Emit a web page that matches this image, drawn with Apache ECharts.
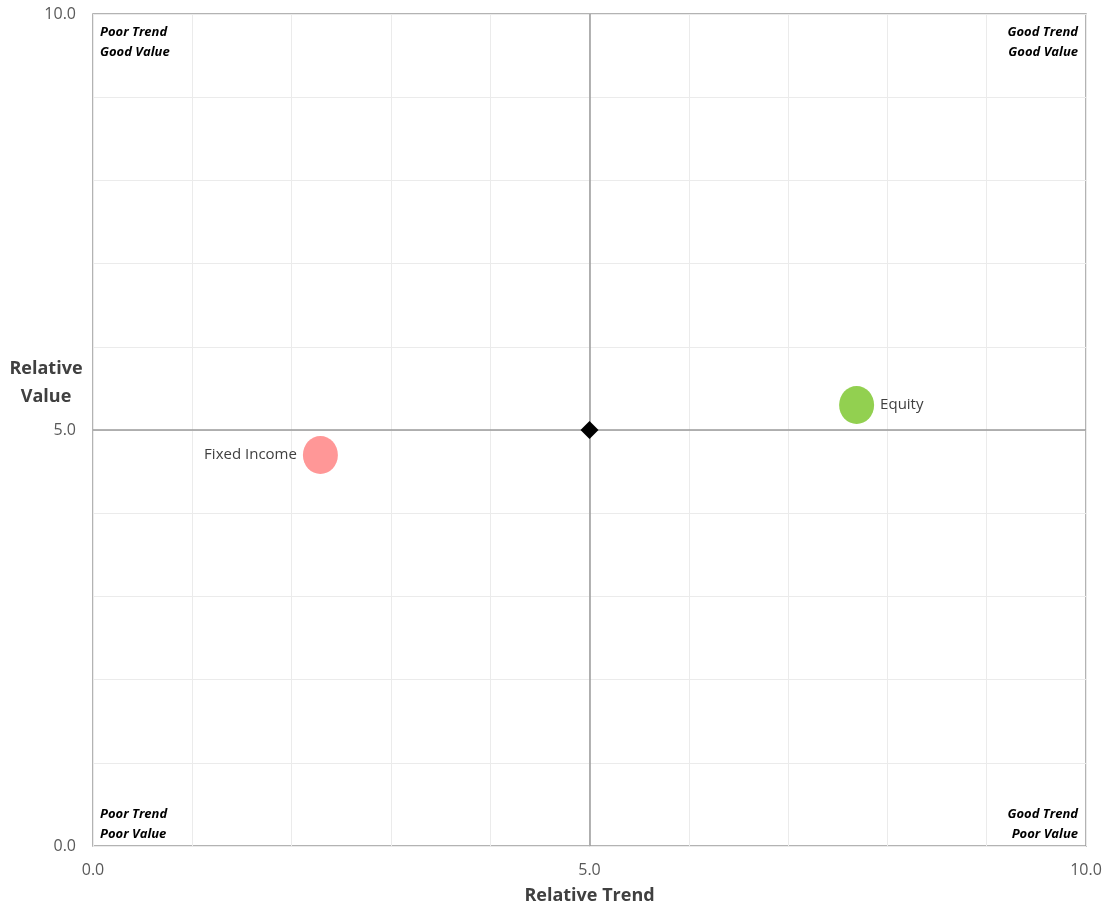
<!DOCTYPE html>
<html><head><meta charset="utf-8">
<script src="https://cdn.jsdelivr.net/npm/echarts@6/dist/echarts.min.js"></script>
<style>html,body{margin:0;padding:0;background:#fff}#c{width:1103px;height:905px}</style>
</head><body><div id="c"></div>
<script>
var names = ['Fixed Income', 'Equity'];
var trend = [2.29, 7.69];
var value = [4.70, 5.30];
var colors = ['#ff9797', '#92d050'];
var labelPos = ['left', 'right'];
var tickLabels = ['0.0', '5.0', '10.0'];
var xName = 'Relative Trend';
var yName = 'Relative\nValue';
var quadrants = [
  {text: 'Poor Trend\nGood Value', corner: 'tl'},
  {text: 'Good Trend\nGood Value', corner: 'tr'},
  {text: 'Poor Trend\nPoor Value', corner: 'bl'},
  {text: 'Good Trend\nPoor Value', corner: 'br'}
];
var center = [5, 5];

var chart = echarts.init(document.getElementById('c'));
var fmt = function (v) { return tickLabels.indexOf(v.toFixed(1)) >= 0 ? v.toFixed(1) : ''; };
var font = '"Open Sans", "Noto Sans", sans-serif';
var qStyle = {fontFamily: font, fontSize: 13, fontWeight: 'bold', fontStyle: 'italic', fill: '#000', lineHeight: 20};
var gl = 93, gt = 14, gr = 1086, gb = 846;
var graphics = quadrants.map(function (q) {
  var s = Object.assign({text: q.text}, qStyle);
  var g = {type: 'text', style: s, z: 10};
  if (q.corner[1] === 'l') { g.left = gl + 7; s.textAlign = 'left'; }
  else { g.right = 1103 - gr + 8; s.textAlign = 'right'; }
  if (q.corner[0] === 't') { g.top = gt + 8; } else { g.bottom = 905 - gb + 2; }
  return g;
});
graphics.push({
  type: 'text', x: 46, y: 383, z: 10,
  style: {text: yName, fontFamily: font, fontSize: 18, fontWeight: 'bold', fill: '#404040',
          lineHeight: 28, align: 'center', verticalAlign: 'middle'}
});

var seriesData = names.map(function (n, i) {
  return {
    name: n, value: [trend[i], value[i]],
    itemStyle: {color: colors[i], opacity: 1},
    label: {show: true, formatter: n, position: labelPos[i], distance: 6, color: '#404040', fontSize: 15, fontFamily: font}
  };
});

chart.setOption({
  animation: false,
  grid: {left: gl, top: gt, right: 1103 - gr, bottom: 905 - gb, containLabel: false, outerBoundsMode: 'none',
         show: true, borderColor: '#9a9a9a', borderWidth: 1.5},
  xAxis: {
    type: 'value', min: 0, max: 10, interval: 1,
    name: xName, nameLocation: 'middle', nameGap: 41,
    nameTextStyle: {fontFamily: font, fontSize: 18, fontWeight: 'bold', color: '#404040'},
    axisLine: {show: false}, axisTick: {show: false},
    axisLabel: {formatter: fmt, color: '#595959', fontSize: 16, fontFamily: font, margin: 16},
    splitLine: {show: true, lineStyle: {color: '#ebebeb', width: 1}}
  },
  yAxis: {
    type: 'value', min: 0, max: 10, interval: 1,
    axisLine: {show: false}, axisTick: {show: false},
    axisLabel: {formatter: fmt, color: '#595959', fontSize: 16, fontFamily: font, margin: 17},
    splitLine: {show: true, lineStyle: {color: '#ebebeb', width: 1}}
  },
  graphic: graphics,
  series: [
    {
      type: 'scatter', symbol: 'circle', symbolSize: [35, 38],
      data: seriesData,
      markLine: {
        silent: true, symbol: 'none', label: {show: false},
        lineStyle: {color: '#9a9a9a', type: 'solid', width: 1.5},
        data: [{xAxis: center[0]}, {yAxis: center[1]}]
      }
    },
    {
      type: 'scatter', symbol: 'diamond', symbolSize: 18, z: 5,
      itemStyle: {color: '#000', opacity: 1},
      data: [center]
    }
  ]
});
</script></body></html>
